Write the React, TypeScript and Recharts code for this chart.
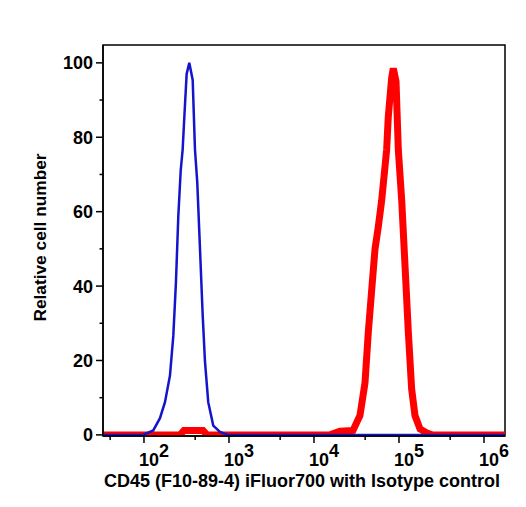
import { LineChart, Line, XAxis, YAxis, ReferenceArea } from "recharts";

// log10 of fluorescence intensity and relative counts, read per histogram bin
const isotypeLog = [1.518, 1.988, 2.109, 2.188, 2.247, 2.306, 2.345, 2.376, 2.404, 2.432, 2.455, 2.476, 2.502, 2.533, 2.573, 2.6, 2.627, 2.659, 2.691, 2.718, 2.756, 2.815, 2.894, 2.988, 6.247];
const isotypeCount = [0, 0, 1.2, 4.5, 8.8, 16, 26.6, 41, 58.8, 71, 76.7, 86, 97, 100, 95.4, 76.7, 67.8, 50, 32, 19.6, 8.8, 2.5, 0.8, 0, 0];

const cd45Log = [1.518, 2.424, 2.471, 2.694, 2.741, 4.188, 4.306, 4.459, 4.541, 4.6, 4.639, 4.679, 4.718, 4.757, 4.796, 4.835, 4.855, 4.874, 4.914, 4.933, 4.965, 4.992, 5.032, 5.071, 5.11, 5.149, 5.188, 5.247, 5.329, 5.388, 6.247];
const cd45Count = [0, 0, 1.2, 1.2, 0, 0, 1, 1.2, 5.2, 14, 27.6, 39, 50, 56, 63, 72, 76.7, 85.5, 96, 98.5, 95, 76.7, 63, 45.4, 27.6, 12.3, 5.2, 1.6, 0.5, 0, 0];

const X_DOMAIN: [number, number] = [1.518, 6.247];
const Y_DOMAIN: [number, number] = [-0.3, 104.8];
const DECADES = [1, 2, 3, 4, 5, 6];
const Y_TICKS = Array.from({ length: 21 }, (_, i) => i * 5);

const FONT = "'Liberation Sans', Arial, Helvetica, sans-serif";

const xTicks: number[] = [];
DECADES.forEach((d) => {
  for (let m = 1; m <= 9; m++) {
    const v = d + Math.log10(m);
    if (v >= X_DOMAIN[0] && v <= X_DOMAIN[1]) xTicks.push(+v.toFixed(4));
  }
});

const isotype = isotypeLog.map((x, i) => ({ x, y: isotypeCount[i] }));
const cd45 = cd45Log.map((x, i) => ({ x, y: cd45Count[i] }));

function XTick({ x, y, payload }: any) {
  const v = payload.value as number;
  const major = Math.abs(v - Math.round(v)) < 1e-6;
  return (
    <g>
      <line x1={x} x2={x} y1={y} y2={y + (major ? 7 : 4)} stroke="#000" strokeWidth={1.5} />
      {major && Math.round(v) >= 2 && (
        <text x={x - 5} y={y + 30} fontFamily={FONT} fontWeight="bold" fontSize={18} fill="#000">
          <tspan>10</tspan>
          <tspan dy={-9}>{Math.round(v)}</tspan>
        </text>
      )}
    </g>
  );
}

function YTick({ x, y, payload }: any) {
  const v = payload.value as number;
  const major = v % 20 === 0;
  return (
    <g>
      <line x1={x} x2={x - (major ? 7 : 3.5)} y1={y} y2={y} stroke="#000" strokeWidth={1.5} />
      {major && (
        <text x={x - 10} y={y + 6.5} textAnchor="end" fontFamily={FONT} fontWeight="bold" fontSize={18} fill="#000">
          {v}
        </text>
      )}
    </g>
  );
}

const XTitle = () => (
  <text x={294} y={479} textAnchor="middle" fontFamily={FONT} fontWeight="bold" fontSize={18} fill="#000">
    CD45 (F10-89-4) iFluor700 with Isotype control
  </text>
);

const YTitle = () => (
  <text
    x={32}
    y={229.5}
    textAnchor="middle"
    dominantBaseline="central"
    transform="rotate(-90 32 229.5)"
    fontFamily={FONT}
    fontWeight="bold"
    fontSize={17.3}
    fill="#000"
  >
    Relative cell number
  </text>
);

export default function App() {
  return (
    <LineChart width={510} height={490} margin={{ top: 37, right: 13, left: 35, bottom: 2 }}>
      <XAxis
        type="number"
        dataKey="x"
        domain={X_DOMAIN}
        ticks={xTicks}
        allowDataOverflow
        tickSize={0}
        tickMargin={0}
        tickLine={false}
        tick={<XTick />}
        height={60}
        axisLine={{ stroke: "#000", strokeWidth: 1.5 }}
        label={<XTitle />}
      />
      <YAxis
        type="number"
        dataKey="y"
        domain={Y_DOMAIN}
        ticks={Y_TICKS}
        allowDataOverflow
        tickSize={0}
        tickMargin={0}
        tickLine={false}
        tick={<YTick />}
        width={60}
        axisLine={{ stroke: "#000", strokeWidth: 1.5 }}
        label={<YTitle />}
      />
      <ReferenceArea
        x1={X_DOMAIN[0]}
        x2={X_DOMAIN[1]}
        y1={Y_DOMAIN[0]}
        y2={Y_DOMAIN[1]}
        fill="none"
        stroke="#000"
        strokeWidth={1.5}
        fillOpacity={0}
      />
      <Line
        data={cd45}
        dataKey="y"
        type="linear"
        stroke="#ff0000"
        strokeWidth={7}
        dot={false}
        isAnimationActive={false}
      />
      <Line
        data={isotype}
        dataKey="y"
        type="linear"
        stroke="#1414cc"
        strokeWidth={2.5}
        dot={false}
        isAnimationActive={false}
      />
    </LineChart>
  );
}
